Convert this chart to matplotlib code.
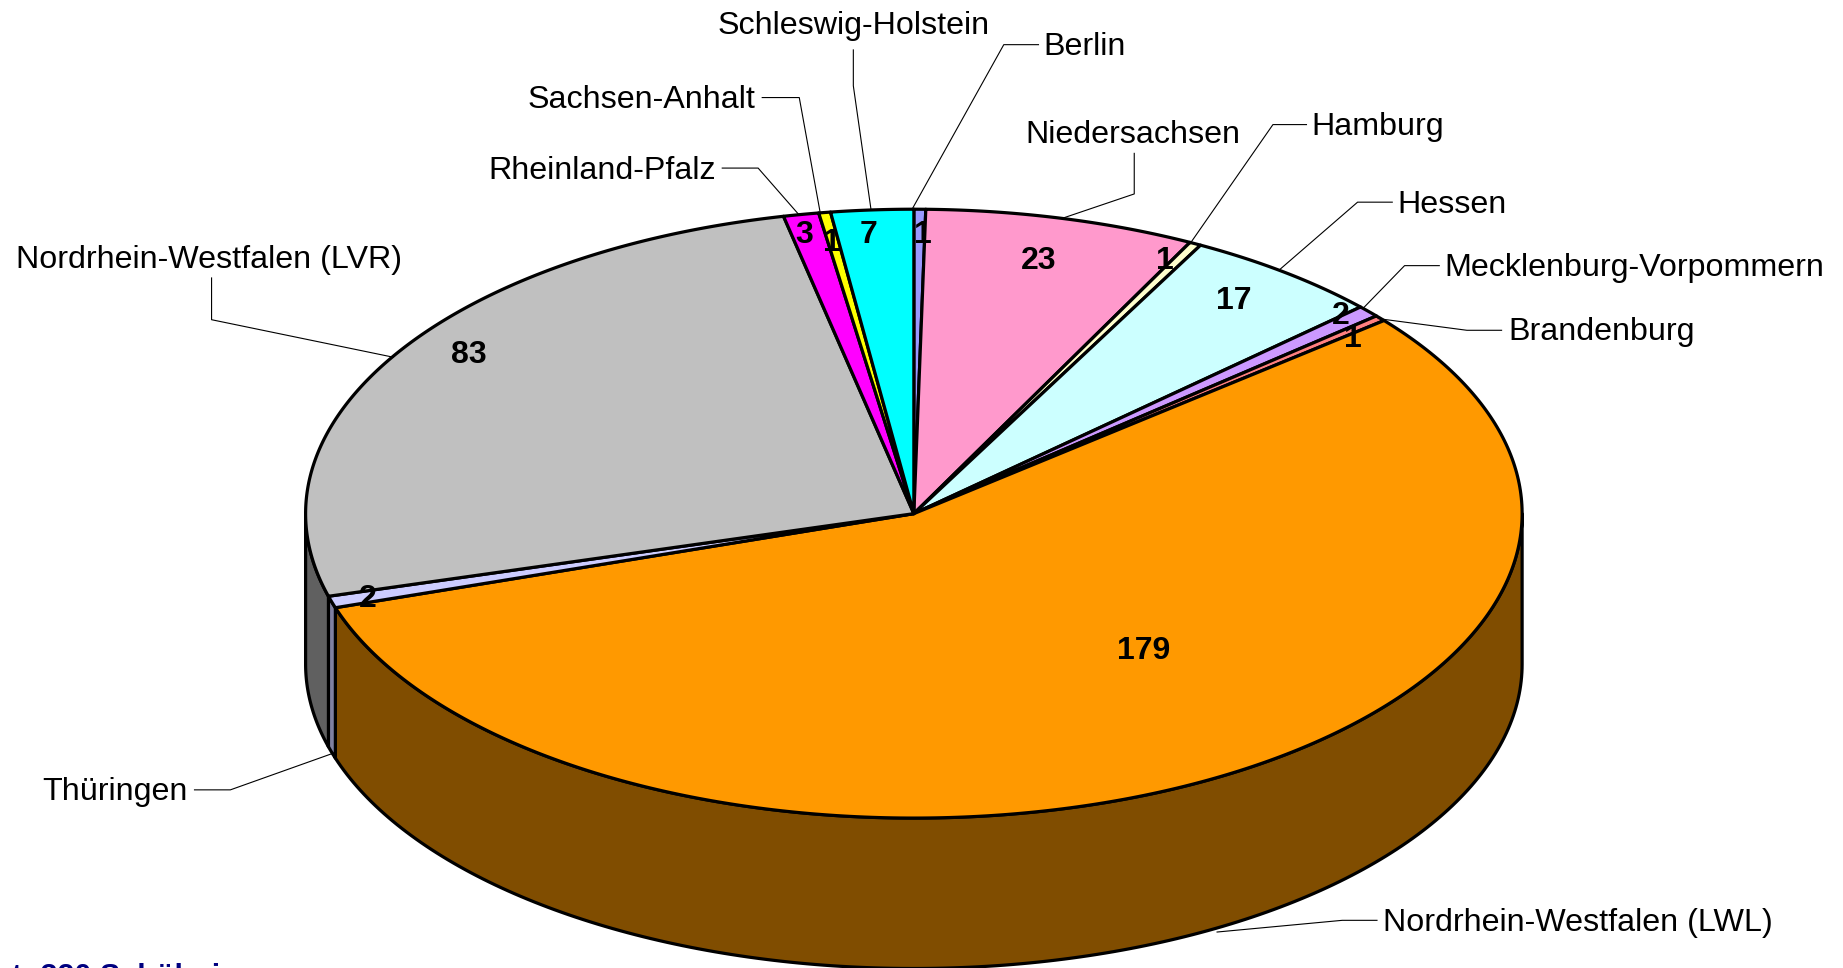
import numpy as np
import matplotlib
matplotlib.use("Agg")
import matplotlib.pyplot as plt
from matplotlib.patches import Polygon

plt.rcParams['font.family'] = ['Liberation Sans', 'DejaVu Sans']

# Data: clockwise from 12 o'clock
categories = ["Berlin", "Niedersachsen", "Hamburg", "Hessen", "Mecklenburg-Vorpommern",
              "Brandenburg", "Nordrhein-Westfalen (LWL)", "Thüringen",
              "Nordrhein-Westfalen (LVR)", "Rheinland-Pfalz", "Sachsen-Anhalt", "Schleswig-Holstein"]
values = [1, 23, 1, 17, 2, 1, 179, 2, 83, 3, 1, 7]
total_note = "Gesamt: 320 Schülerinnen"

# Styles
top_colors = ["#9999FF", "#FF99CC", "#FFFFCC", "#CCFFFF", "#CC99FF", "#FF8080",
              "#FF9900", "#CCCCFF", "#C0C0C0", "#FF00FF", "#FFFF00", "#00FFFF"]
side_colors = ["#4D4D80", "#804D66", "#808066", "#668080", "#664D80", "#804040",
               "#804D00", "#8080A0", "#606060", "#800080", "#808000", "#008080"]

# Geometry (pixels)
W, H = 1843, 968
S = 1843 / 1568
cx, cy = 777.5 * S, 437 * S
rx, ry = 517.5 * S, 259 * S
depth = 128 * S

# Label positions in the shrunk-reference coordinates
value_pos = [(785, 198), (884, 220), (991, 220), (1050, 254), (1141, 267), (1151, 286),
             (973, 552), (313, 508), (399, 300), (684, 198), (708, 205), (739, 198)]
label_pos = [(888, 38, 'left'), (964, 113, 'center'), (1116, 106, 'left'), (1189, 172, 'left'),
             (1229, 226, 'left'), (1283, 280, 'left'), (1177, 783, 'left'), (160, 672, 'right'),
             (178, 219, 'center'), (609, 143, 'right'), (643, 83, 'right'), (726, 20, 'center')]
leaders = [[(884, 38), (854, 38), (776, 178)],
           [(965, 130), (965, 165), (903, 186)],
           [(1112, 106), (1083, 106), (1012, 208)],
           [(1185, 172), (1155, 172), (1088, 230)],
           [(1225, 226), (1195, 226), (1160, 262)],
           [(1278, 281), (1248, 281), (1172, 271)],
           [(1172, 783), (1142, 783), (1035, 793)],
           [(165, 672), (196, 672), (283, 641)],
           [(180, 236), (180, 272), (335, 304)],
           [(614, 143), (645, 143), (680, 183)],
           [(648, 83), (680, 83), (698, 182)],
           [(726, 42), (726, 73), (741, 178)]]

fig = plt.figure(figsize=(W / 100, H / 100), dpi=100, facecolor='white')
ax = fig.add_axes([0, 0, 1, 1])
ax.set_xlim(0, W)
ax.set_ylim(H, 0)
ax.axis('off')

edges = np.concatenate([[0], np.cumsum(values)]) * 2 * np.pi / np.sum(values)


def rim(t, dy=0.0):
    return np.column_stack([cx + rx * np.sin(t), cy - ry * np.cos(t) + dy])


LW = 2.3
# Side wall (lower half only)
for a, b, c in zip(edges[:-1], edges[1:], side_colors):
    lo, hi = max(a, np.pi / 2), min(b, 3 * np.pi / 2)
    if hi <= lo:
        continue
    t = np.linspace(lo, hi, 200)
    pts = np.vstack([rim(t), rim(t[::-1], depth)])
    ax.add_patch(Polygon(pts, closed=True, fc=c, ec='black', lw=LW, joinstyle='round', zorder=2))

# Top face
for a, b, c in zip(edges[:-1], edges[1:], top_colors):
    t = np.linspace(a, b, 300)
    pts = np.vstack([[[cx, cy]], rim(t)])
    ax.add_patch(Polygon(pts, closed=True, fc=c, ec='black', lw=LW, joinstyle='round', zorder=3))

# Leader lines
for pts in leaders:
    arr = np.array(pts) * S
    ax.plot(arr[:, 0], arr[:, 1], color='black', lw=0.8, zorder=4, solid_capstyle='butt')

# Category labels
for name, (x, y, ha) in zip(categories, label_pos):
    ax.text(x * S, (y + 2.2) * S, name, ha=ha, va='center', fontsize=23.2, color='black', zorder=5)

# Value labels
for v, (x, y) in zip(values, value_pos):
    ax.text(x * S, (y + 2) * S, str(v), ha='center', va='center', fontsize=23,
            fontweight='bold', color='black', zorder=6)

# Note cut off by the lower edge of the picture, as in the reference
ax.text(-90, 986, total_note, ha='left', va='baseline', fontsize=22, fontweight='bold',
        color='#000080', zorder=6, clip_on=True)

fig.savefig('out.png', dpi=100, facecolor='white')
